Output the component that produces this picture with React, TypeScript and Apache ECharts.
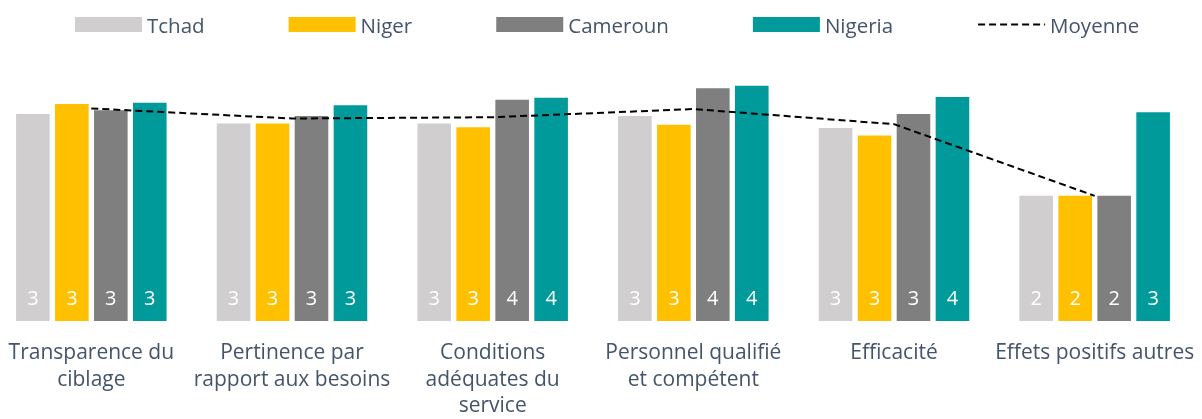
import React, { useEffect, useRef } from "react";
import * as echarts from "echarts";

const categories = [
  "Transparence du\nciblage",
  "Pertinence par\nrapport aux besoins",
  "Conditions\nadéquates du\nservice",
  "Personnel qualifié\net compétent",
  "Efficacité",
  "Effets positifs autres",
];
const tchad = [3.29, 3.14, 3.14, 3.26, 3.07, 1.99];
const niger = [3.45, 3.14, 3.08, 3.12, 2.95, 1.99];
const cameroun = [3.35, 3.26, 3.52, 3.7, 3.29, 1.99];
const nigeria = [3.47, 3.43, 3.55, 3.74, 3.56, 3.32];
const moyenne = [3.38, 3.22, 3.24, 3.37, 3.13, 1.99];

const TEXT = "#44546A";
const FONT = "'Open Sans', sans-serif";

export default function App() {
  const ref = useRef<HTMLDivElement>(null);
  useEffect(() => {
    if (!ref.current) return;
    const chart = echarts.init(ref.current, undefined, { renderer: "svg" });
    const barLabel = {
      show: true,
      position: "insideBottom",
      distance: 14,
      color: "#ffffff",
      fontSize: 20,
      fontFamily: FONT,
      formatter: (p: any) => String(Math.round(p.value)),
    };
    const bar = (name: string, data: number[], color: string) => ({
      name,
      type: "bar",
      data,
      barGap: "16%",
      barCategoryGap: "25%",
      itemStyle: { color },
      label: barLabel,
      z: 2,
    });
    chart.setOption({
      animation: false,
      legend: {
        left: 79,
        top: 9,
        itemWidth: 67,
        itemHeight: 15,
        itemGap: 84,
        textStyle: { color: TEXT, fontSize: 20.5, fontFamily: FONT },
        data: [
          { name: "Tchad", icon: "rect" },
          { name: "Niger", icon: "rect" },
          { name: "Cameroun", icon: "rect" },
          { name: "Nigeria", icon: "rect" },
          { name: "Moyenne", itemStyle: { opacity: 0 } },
        ],
      },
      grid: {
        left: 0,
        right: 7,
        top: 38,
        bottom: 98,
        containLabel: false,
        outerBoundsMode: "none",
      },
      xAxis: {
        type: "category",
        data: categories,
        axisLine: { show: false },
        axisTick: { show: false },
        axisLabel: {
          interval: 0,
          color: TEXT,
          fontSize: 21,
          fontFamily: FONT,
          lineHeight: 26.5,
          margin: 17,
        },
      },
      yAxis: {
        type: "value",
        min: 0,
        max: 4.5,
        show: false,
        splitLine: { show: false },
      },
      series: [
        bar("Tchad", tchad, "#D0CECE"),
        bar("Niger", niger, "#FFC000"),
        bar("Cameroun", cameroun, "#7F7F7F"),
        bar("Nigeria", nigeria, "#009A9A"),
        {
          name: "Moyenne",
          type: "line",
          data: moyenne,
          symbol: "none",
          z: 5,
          lineStyle: { color: "#000000", width: 2, type: [7, 4] },
          itemStyle: { color: "#000000" },
        },
      ],
    });
    return () => chart.dispose();
  }, []);
  return (
    <div
      ref={ref}
      style={{ position: "fixed", left: -9, top: 0, width: 1211, height: 419 }}
    />
  );
}
